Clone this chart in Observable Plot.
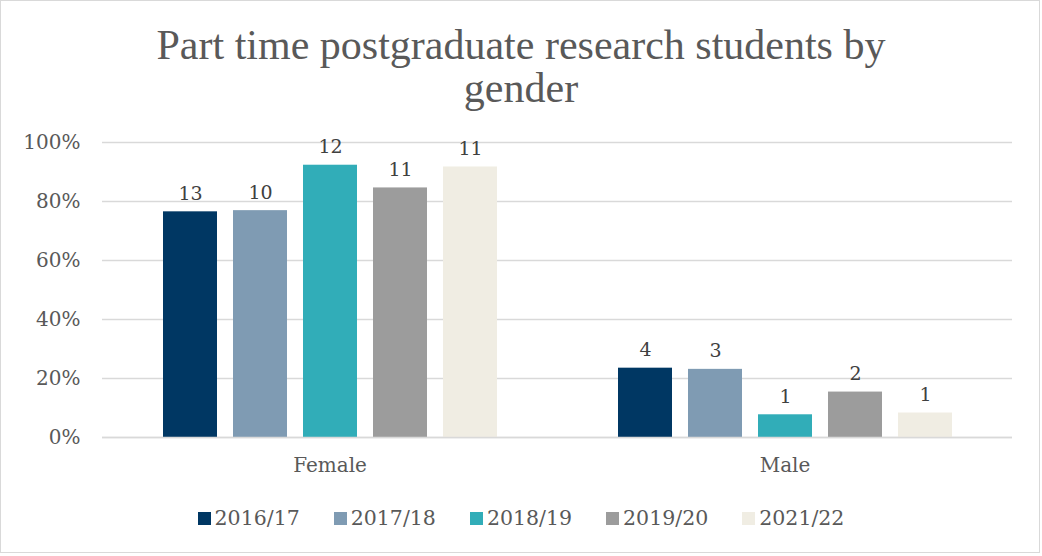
<!DOCTYPE html>
<html>
<head>
<meta charset="utf-8">
<script src="https://cdn.jsdelivr.net/npm/d3@7"></script>
<script src="https://cdn.jsdelivr.net/npm/@observablehq/plot@0.6"></script>
<style>
  html, body { margin: 0; padding: 0; background: #fff; }
  #frame { position: absolute; left: 0; top: 0; width: 1040px; height: 553px; box-sizing: border-box; border: 1px solid #d9d9d9; background: #fff; }
  #title { position: absolute; left: 0; top: 24px; width: 1042px; text-align: center; font-family: "Liberation Serif", serif; font-size: 42px; line-height: 43px; color: #595959; }
  #chart { position: absolute; left: 0; top: 115px; }
  #legend { position: absolute; left: 0; top: 506px; width: 1042px; display: flex; justify-content: center; gap: 34px; font-family: "DejaVu Serif", serif; font-size: 20.5px; color: #595959; }
  #legend .item { display: flex; align-items: center; gap: 4px; }
  #legend .sw { width: 13px; height: 13px; display: inline-block; }
</style>
</head>
<body>
<div id="frame"></div>
<div id="title">Part time postgraduate research students by<br>gender</div>
<div id="chart"></div>
<div id="legend"></div>
<script>
const genders = ["Female", "Male"];
const years = ["2016/17", "2017/18", "2018/19", "2019/20", "2021/22"];
const colors = ["#003763", "#7f9bb3", "#31adb8", "#9c9c9c", "#f0ede3"];
const femalePct = [76.5, 76.9, 92.3, 84.6, 91.7];
const malePct = [23.5, 23.1, 7.7, 15.4, 8.3];
const femaleCounts = [13, 10, 12, 11, 11];
const maleCounts = [4, 3, 1, 2, 1];
const yTicks = [0, 20, 40, 60, 80, 100];

const data = [];
years.forEach((y, i) => {
  data.push({gender: "Female", year: y, pct: femalePct[i], n: femaleCounts[i]});
  data.push({gender: "Male", year: y, pct: malePct[i], n: maleCounts[i]});
});

const font = "DejaVu Serif, serif";
const chart = Plot.plot({
  width: 1042,
  height: 375,
  marginLeft: 101,
  marginRight: 30,
  marginTop: 27,
  marginBottom: 53,
  style: {fontFamily: font, fontSize: "20px", color: "#595959", background: "transparent"},
  fx: {domain: genders, padding: 0, label: null, axis: null},
  x: {domain: years, paddingInner: 0.229, paddingOuter: 0.864, axis: null},
  y: {domain: [0, 100], ticks: yTicks, label: null, axis: null},
  color: {domain: years, range: colors},
  marks: [
    Plot.gridY(yTicks, {stroke: "#d9d9d9", strokeOpacity: 1, strokeWidth: 1.5}),
    Plot.barY(data, {fx: "gender", x: "year", y: "pct", fill: "year"}),
    Plot.ruleY([0], {stroke: "#d9d9d9", strokeWidth: 1.5}),
    Plot.text(data, {fx: "gender", x: "year", y: "pct", text: "n", dy: -18, fill: "#404040", fontSize: 19}),
    Plot.axisY(yTicks, {tickSize: 0, tickPadding: 22, tickFormat: d => d + "%", fill: "#595959", fontSize: 20, frameAnchor: "left"}),
    Plot.axisFx({anchor: "bottom", tickSize: 0, tickPadding: 20, fill: "#595959", fontSize: 20, label: null})
  ]
});
document.getElementById("chart").appendChild(chart);

const legend = document.getElementById("legend");
years.forEach((y, i) => {
  const item = document.createElement("div");
  item.className = "item";
  const sw = document.createElement("span");
  sw.className = "sw";
  sw.style.background = colors[i];
  const t = document.createElement("span");
  t.textContent = y;
  item.appendChild(sw);
  item.appendChild(t);
  legend.appendChild(item);
});
</script>
</body>
</html>
